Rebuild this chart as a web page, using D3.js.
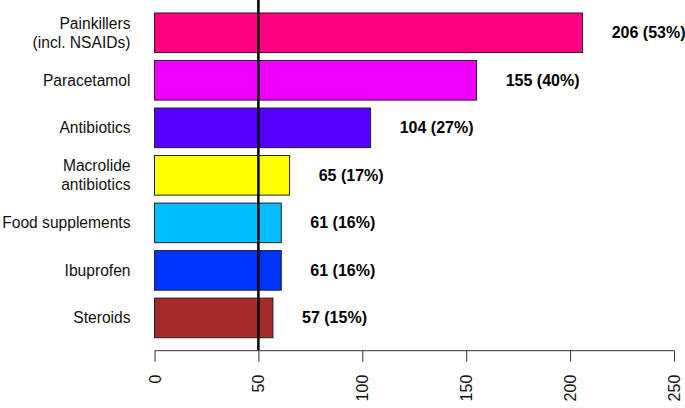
<!DOCTYPE html>
<html>
<head>
<meta charset="utf-8">
<script src="https://cdn.jsdelivr.net/npm/d3@7"></script>
<style>
  body { margin: 0; background: white; }
  svg { display: block; font-family: "Liberation Sans", Arial, sans-serif; }
</style>
</head>
<body>
<div id="chart"></div>
<script>
// data, top bar first
var categories = ["Painkillers\n(incl. NSAIDs)", "Paracetamol", "Antibiotics", "Macrolide\nantibiotics",
                  "Food supplements", "Ibuprofen", "Steroids"];
var counts = [206, 155, 104, 65, 61, 61, 57];
var labels = ["206 (53%)", "155 (40%)", "104 (27%)", "65 (17%)", "61 (16%)", "61 (16%)", "57 (15%)"];
var barColors = ["#FF0080", "#EE00FF", "#5500FF", "#FFFF00", "#00BFFF", "#0033FF", "#A52A2A"];
var xTicks = [0, 50, 100, 150, 200, 250];
var refLine = 50;

var w = 685,
    h = 408,
    plotTop = 0,
    plotBottom = 350.7;

var svg = d3.select("#chart")
            .append("svg")
            .attr("width", w)
            .attr("height", h);

var data = categories.map(function(c, i) {
    return {cat: c, n: counts[i], lab: labels[i], col: barColors[i]};
});

var x = d3.scaleLinear().domain([0, 250]).range([154.5, 674]);
var y = d3.scaleBand()
        .domain(categories)
        .range([plotTop, plotBottom])
        .paddingInner(0.2 / 1.2)
        .paddingOuter(0.2733);

// bars
svg.selectAll("rect.bar")
    .data(data)
    .enter()
    .append("rect")
    .attr("class", "bar")
    .attr("x", x(0))
    .attr("y", function(d) { return y(d.cat); })
    .attr("width", function(d) { return x(d.n) - x(0); })
    .attr("height", y.bandwidth())
    .attr("fill", function(d) { return d.col; })
    .attr("stroke", "#222")
    .attr("stroke-width", 1);

// value labels
svg.selectAll("text.val")
    .data(data)
    .enter()
    .append("text")
    .attr("class", "val")
    .attr("x", function(d) { return x(d.n + 14); })
    .attr("y", function(d) { return y(d.cat) + y.bandwidth() / 2; })
    .attr("dominant-baseline", "central")
    .style("font-size", "16px")
    .style("font-weight", "bold")
    .text(function(d) { return d.lab; });

// category labels (can be two lines)
var cl = svg.selectAll("text.cat")
    .data(data)
    .enter()
    .append("text")
    .attr("class", "cat")
    .attr("text-anchor", "end")
    .style("font-size", "15.6px")
    .style("fill", "#111");

cl.each(function(d) {
    var lines = d.cat.split("\n"),
        cy = y(d.cat) + y.bandwidth() / 2,
        lh = 19;
    var t = d3.select(this);
    lines.forEach(function(l, i) {
        t.append("tspan")
            .attr("x", 130.5)
            .attr("y", cy + (i - (lines.length - 1) / 2) * lh)
            .attr("dominant-baseline", "central")
            .text(l);
    });
});

// reference line
svg.append("line")
    .attr("x1", x(refLine)).attr("x2", x(refLine))
    .attr("y1", plotTop).attr("y2", plotBottom)
    .attr("stroke", "black")
    .attr("stroke-width", 2.5);

// x axis
var xAxis = d3.axisBottom(x).tickValues(xTicks).tickSize(11).tickPadding(0);
var gx = svg.append("g")
    .attr("transform", "translate(0," + plotBottom + ")")
    .call(xAxis);

gx.select(".domain").attr("stroke", "#333").attr("d", "M" + x(0) + ",0H" + x(250));
gx.selectAll(".tick line").attr("stroke", "#333");
gx.selectAll(".tick text")
    .attr("transform", "translate(0,24) rotate(-90)")
    .attr("x", 0)
    .attr("y", 0)
    .attr("dy", null)
    .attr("text-anchor", "end")
    .attr("dominant-baseline", "central")
    .style("font-size", "16px")
    .style("font-family", "Liberation Sans, Arial, sans-serif")
    .attr("fill", "#111");
</script>
</body>
</html>
